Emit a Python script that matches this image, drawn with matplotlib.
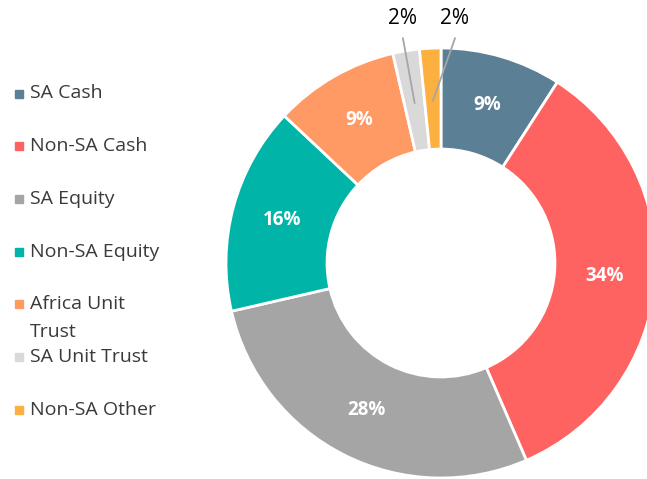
import numpy as np
import matplotlib.pyplot as plt
from matplotlib.patches import Rectangle

plt.rcParams['font.family'] = ['Open Sans', 'DejaVu Sans']

# data
labels = ["SA Cash", "Non-SA Cash", "SA Equity", "Non-SA Equity",
          "Africa Unit\nTrust", "SA Unit Trust", "Non-SA Other"]
shares = [9.1, 34.4, 27.9, 15.6, 9.4, 2.0, 1.6]
colors = ["#5B7F95", "#FF6361", "#A5A5A5", "#00B5A7",
          "#FF9A65", "#D9D9D9", "#FBB040"]
outside = [False, False, False, False, False, True, True]

W, H = 647, 479
fig = plt.figure(figsize=(W / 100, H / 100), dpi=100)

# donut axes: centre (441, 263) px, radius 215 px
cx, cy, R = 441, 263, 215
ax = fig.add_axes([(cx - R) / W, (H - cy - R) / H, 2 * R / W, 2 * R / H])
wedges, _ = ax.pie(shares, colors=colors, startangle=90, counterclock=False,
                   radius=1.0,
                   wedgeprops=dict(width=0.47, edgecolor="white", linewidth=2.0))
ax.set_xlim(-1, 1)
ax.set_ylim(-1, 1)
ax.set_aspect("equal")
ax.axis("off")

out_text_x = [-0.177, 0.065]
k = 0
for w, val, out in zip(wedges, shares, outside):
    mid = np.deg2rad((w.theta1 + w.theta2) / 2)
    txt = f"{round(val):.0f}%"
    if not out:
        r = 0.765
        ax.text(r * np.cos(mid), r * np.sin(mid), txt, ha="center", va="center",
                color="white", fontsize=13.5, fontweight="bold")
    else:
        r = 0.755
        px, py = r * np.cos(mid), r * np.sin(mid)
        tx = out_text_x[k]
        k += 1
        ax.plot([px, tx], [py, 1.045], color="#A6A6A6", lw=1.3, clip_on=False)
        ax.text(tx, 1.135, txt, ha="center", va="center", color="black",
                fontsize=15, clip_on=False)

# legend drawn by hand
row_y = 93.5
for lab, col in zip(labels, colors):
    fig.patches.append(Rectangle((14.5 / W, 1 - (row_y + 4) / H), 8 / W, 8 / H,
                                 transform=fig.transFigure, color=col))
    for i, line in enumerate(lab.split("\n")):
        fig.text(30 / W, 1 - (row_y + i * 28) / H, line, ha="left", va="center",
                 fontsize=14, color="#3A3A3A")
    row_y += 52.7

fig.savefig("out.png", dpi=100)
